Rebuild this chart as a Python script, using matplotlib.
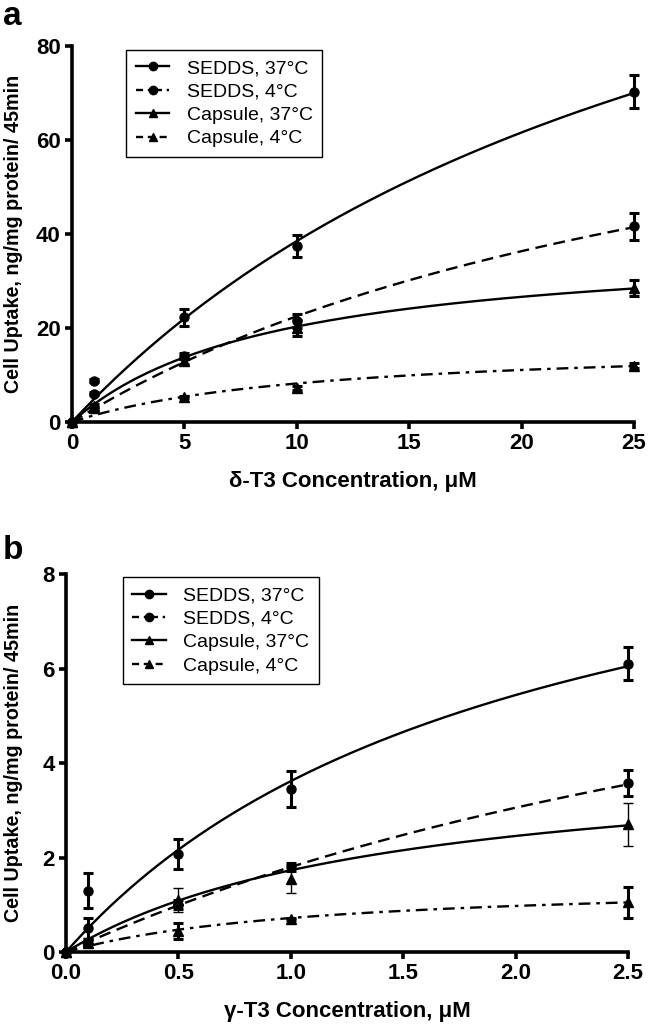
import numpy as np
import matplotlib
matplotlib.use('Agg')
import matplotlib.pyplot as plt
from matplotlib.lines import Line2D

plt.rcParams['font.family'] = ['Liberation Sans Narrow', 'Liberation Sans', 'DejaVu Sans']

# Series names (legend order)
series = ['SEDDS, 37°C', 'SEDDS, 4°C', 'Capsule, 37°C', 'Capsule, 4°C']

# Panel a: delta-T3
conc_a = [0, 1, 5, 10, 25]
mean_a = {
    'SEDDS, 37°C': [0, 6.0, 22.3, 37.5, 70.3],
    'SEDDS, 4°C': [0, 8.8, 14.0, 21.5, 41.6],
    'Capsule, 37°C': [0, 3.5, 13.0, 20.0, 28.5],
    'Capsule, 4°C': [0, 3.0, 5.3, 7.2, 12.0],
}
err_a = {
    'SEDDS, 37°C': [0, 0.3, 1.8, 2.3, 3.5],
    'SEDDS, 4°C': [0, 0.3, 0.6, 1.4, 2.8],
    'Capsule, 37°C': [0, 0.3, 0.6, 1.6, 1.8],
    'Capsule, 4°C': [0, 0.2, 0.3, 0.4, 0.5],
}
# Michaelis-Menten fit parameters (Vmax, Km)
vmax_a = [154.0, 94.5, 38.7, 17.05]
km_a = [30.0, 32.0, 9.06, 10.8]

# Panel b: gamma-T3
conc_b = [0, 0.1, 0.5, 1.0, 2.5]
mean_b = {
    'SEDDS, 37°C': [0, 0.5, 2.08, 3.45, 6.1],
    'SEDDS, 4°C': [0, 1.3, 1.0, 1.8, 3.58],
    'Capsule, 37°C': [0, 0.25, 1.1, 1.55, 2.7],
    'Capsule, 4°C': [0, 0.2, 0.45, 0.7, 1.05],
}
err_b = {
    'SEDDS, 37°C': [0, 0.22, 0.32, 0.38, 0.35],
    'SEDDS, 4°C': [0, 0.37, 0.1, 0.08, 0.28],
    'Capsule, 37°C': [0, 0.05, 0.25, 0.3, 0.45],
    'Capsule, 4°C': [0, 0.03, 0.17, 0.03, 0.33],
}
vmax_b = [10.96, 10.08, 4.23, 1.512]
km_b = [2.03, 4.6, 1.444, 1.1]

markers = ['o', 'o', '^', '^']
curve_styles = ['-', (0, (5, 2.8)), '-', (0, (5, 2.5, 1.5, 2.5))]
legend_styles = ['-', (0, (3, 2, 1, 2)), '-', (0, (3, 2))]
elw_a = [2.2, 2.2, 2.2, 2.2]
elw_b = [2.2, 2.2, 1.0, 2.2]

fig = plt.figure(figsize=(6.52, 10.24), dpi=100)


def draw_panel(rect, conc, means, errs, vmax, km, elws, xticks, yticks, xlab, letter_y, letter,
               leg_rect, ylab_x):
    ax = fig.add_axes(rect)
    xfit = np.linspace(0, conc[-1], 300)
    for i, name in enumerate(series):
        yfit = vmax[i] * xfit / (km[i] + xfit)
        ax.plot(xfit, yfit, color='black', lw=1.7, ls=curve_styles[i], clip_on=False)
        ax.errorbar(conc, means[name], yerr=errs[name], fmt=markers[i], color='black',
                    ms=6.5, elinewidth=elws[i], capsize=3.5, capthick=elws[i], clip_on=False, zorder=3)
    ax.set_xlim(xticks[0], xticks[-1])
    ax.set_ylim(yticks[0], yticks[-1])
    ax.set_xticks(xticks)
    ax.set_yticks(yticks)
    for s in ['top', 'right']:
        ax.spines[s].set_visible(False)
    for s in ['left', 'bottom']:
        ax.spines[s].set_linewidth(2.6)
    ax.tick_params(width=2.6, length=5, labelsize=16, pad=3)
    for t in ax.get_xticklabels() + ax.get_yticklabels():
        t.set_fontweight('bold')
    ax.set_xlabel(xlab, fontsize=16, fontweight='bold', labelpad=12)
    ax.set_ylabel('Cell Uptake, ng/mg protein/ 45min', fontsize=14.2, fontweight='bold')
    ax.yaxis.set_label_coords(ylab_x, 0.5)

    handles = [Line2D([], [], color='black', lw=1.7, ls=legend_styles[i], marker=markers[i], ms=6)
               for i in range(4)]
    leg = ax.legend(handles, series, loc='upper left', bbox_to_anchor=leg_rect,
                    frameon=True, fancybox=False, edgecolor='black', framealpha=1,
                    prop={'family': ['Liberation Sans', 'DejaVu Sans'], 'size': 14},
                    handlelength=1.7, handletextpad=0.9, labelspacing=0.3, borderpad=0.5,
                    borderaxespad=0)
    leg.get_frame().set_linewidth(1.0)
    fig.text(0.004, letter_y, letter, fontsize=24, fontweight='bold',
             family=['Liberation Sans', 'DejaVu Sans'], va='top', ha='left')
    return ax


draw_panel([0.1104, 0.5879, 0.862, 0.3672], conc_a, mean_a, err_a, vmax_a, km_a, elw_a,
           [0, 5, 10, 15, 20, 25], [0, 20, 40, 60, 80], 'δ-T3 Concentration, μM',
           0.999, 'a', (0.097, 0.99), -0.087)
draw_panel([0.1012, 0.0703, 0.862, 0.3691], conc_b, mean_b, err_b, vmax_b, km_b, elw_b,
           [0.0, 0.5, 1.0, 1.5, 2.0, 2.5], [0, 2, 4, 6, 8], 'γ-T3 Concentration, μM',
           0.478, 'b', (0.101, 0.992), -0.076)

ax_b = fig.axes[1]
ax_b.xaxis.set_major_formatter(matplotlib.ticker.FormatStrFormatter('%.1f'))
for t in ax_b.get_xticklabels():
    t.set_fontweight('bold')

fig.savefig('out.png', dpi=100)
